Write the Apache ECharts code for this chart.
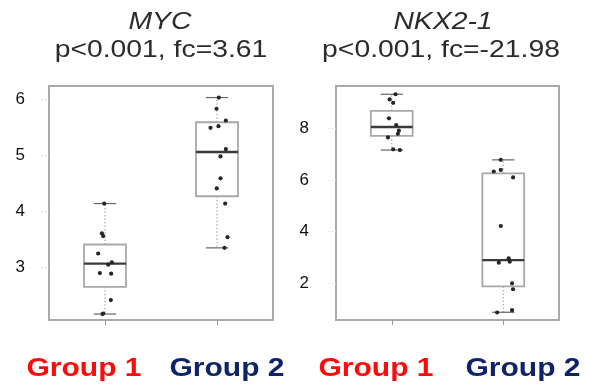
<!DOCTYPE html>
<html>
<head>
<meta charset="utf-8">
<script src="https://cdn.jsdelivr.net/npm/echarts@6/dist/echarts.min.js"></script>
<style>
html,body{margin:0;padding:0;background:#fff;}
#chart{width:589px;height:389px;}
</style>
</head>
<body>
<div id="chart"></div>
<script>
// ---- data ----
var groups = ['Group 1', 'Group 2'];
var panelTitles = ['MYC', 'NKX2-1'];
var panelSubtitles = ['p<0.001, fc=3.61', 'p<0.001, fc=-21.98'];

// box statistics [min, Q1, median, Q3, max]
var mycBoxG1 = [2.17, 2.655, 3.07, 3.41, 4.14];
var mycBoxG2 = [3.35, 4.27, 5.06, 5.59, 6.03];
var nkxBoxG1 = [7.16, 7.71, 8.05, 8.68, 9.32];
var nkxBoxG2 = [0.88, 1.88, 2.90, 6.26, 6.78];

// individual samples
var mycG1 = [4.14, 3.61, 3.56, 3.25, 3.09, 3.05, 2.90, 2.89, 2.42, 2.17, 2.18];
var mycG2 = [6.03, 5.83, 5.62, 5.52, 5.49, 5.11, 4.98, 4.59, 4.41, 4.14, 3.54, 3.35];
var nkxG1 = [9.32, 9.12, 8.99, 8.39, 8.13, 7.91, 7.79, 7.65, 7.19, 7.16];
var nkxG2 = [6.78, 6.33, 6.39, 6.10, 4.22, 2.80, 2.97, 2.84, 2.00, 1.77, 0.87, 0.96];

// horizontal jitter of samples (in category-width units)
var mycG1Jitter = [-0.007, -0.028, -0.016, -0.061, 0.061, 0.029, -0.046, 0.055, 0.052, -0.022, -0.016];
var mycG2Jitter = [0.016, -0.004, 0.079, 0.013, -0.058, 0.079, 0.031, 0.031, -0.002, 0.073, 0.094, 0.067];
var nkxG1Jitter = [0.034, -0.019, 0.013, -0.025, 0.040, 0.064, 0.055, -0.034, 0.013, 0.073];
var nkxG2Jitter = [-0.022, -0.085, -0.022, 0.088, -0.022, -0.040, 0.049, 0.058, 0.079, 0.088, -0.055, 0.079];

// y-axis ticks
var mycTicks = [3, 4, 5, 6];
var nkxTicks = [2, 4, 6, 8];
var mycRange = [2.064, 6.236];
var nkxRange = [0.58, 9.64];

// ---- build ----
function boxData(b1, b2) {
  return [[0].concat(b1), [1].concat(b2)];
}
function pointData(g1, j1, g2, j2) {
  var out = [];
  g1.forEach(function (v, i) { out.push([0, v, j1[i]]); });
  g2.forEach(function (v, i) { out.push([1, v, j2[i]]); });
  return out;
}

function renderBox(params, api) {
  var c = api.value(0);
  var pMin = api.coord([c, api.value(1)]);
  var pQ1 = api.coord([c, api.value(2)]);
  var pMed = api.coord([c, api.value(3)]);
  var pQ3 = api.coord([c, api.value(4)]);
  var pMax = api.coord([c, api.value(5)]);
  var cw = api.size([1, 0])[0];
  var bw = cw * 0.375;
  var capw = cw * 0.2;
  var x = pMed[0];
  return {
    type: 'group',
    children: [
      { type: 'line', shape: { x1: x, y1: pQ3[1], x2: x, y2: pMax[1] },
        style: { stroke: '#aaaaaa', lineWidth: 1.2, lineDash: [1.5, 2] } },
      { type: 'line', shape: { x1: x, y1: pQ1[1], x2: x, y2: pMin[1] },
        style: { stroke: '#aaaaaa', lineWidth: 1.2, lineDash: [1.5, 2] } },
      { type: 'line', shape: { x1: x - capw / 2, y1: pMax[1], x2: x + capw / 2, y2: pMax[1] },
        style: { stroke: '#666666', lineWidth: 1.2 } },
      { type: 'line', shape: { x1: x - capw / 2, y1: pMin[1], x2: x + capw / 2, y2: pMin[1] },
        style: { stroke: '#666666', lineWidth: 1.2 } },
      { type: 'rect', shape: { x: x - bw / 2, y: pQ3[1], width: bw, height: pQ1[1] - pQ3[1] },
        style: { fill: 'rgba(255,255,255,0)', stroke: '#a8a8a8', lineWidth: 1.8 } },
      { type: 'line', shape: { x1: x - bw / 2, y1: pMed[1], x2: x + bw / 2, y2: pMed[1] },
        style: { stroke: '#3a3a3a', lineWidth: 2.4 } }
    ]
  };
}

function renderPoint(params, api) {
  var p = api.coord([api.value(0), api.value(1)]);
  var cw = api.size([1, 0])[0];
  return {
    type: 'circle',
    shape: { cx: p[0] + api.value(2) * cw, cy: p[1], r: 2.1 },
    style: { fill: '#262626' }
  };
}

var grids = [
  { left: 49, width: 224, top: 86, height: 234 },
  { left: 336, width: 223, top: 86, height: 234 }
];
grids.forEach(function (g) {
  g.show = true; g.borderColor = '#aaaaaa'; g.borderWidth = 2; g.backgroundColor = '#fff';
});

function xAxis(i) {
  return {
    type: 'category', gridIndex: i, data: groups, boundaryGap: true,
    axisLine: { show: false },
    axisTick: { show: true, alignWithLabel: true, length: 5, lineStyle: { color: '#999', width: 1 } },
    axisLabel: { show: false },
    splitLine: { show: false }
  };
}
function yAxis(i, range, ticks, margin) {
  return {
    type: 'value', gridIndex: i, min: range[0], max: range[1],
    axisLine: { show: false },
    axisTick: { show: true, length: 7, customValues: ticks, lineStyle: { color: '#c8c8c8', width: 1, type: [1, 2] } },
    axisLabel: { show: true, customValues: ticks, margin: margin, fontSize: 17,
      fontFamily: 'Liberation Sans, Arial, sans-serif', color: '#111' },
    splitLine: { show: false }
  };
}

var txtFont = 'Liberation Sans, Arial, sans-serif';
function gText(text, x, y, opts) {
  return {
    type: 'text', x: x, y: y, scaleX: opts.scaleX || 1.18, z: 10,
    style: {
      text: text, fill: opts.color || '#2b2b2b', align: 'center', verticalAlign: 'middle',
      font: (opts.style || '') + ' ' + (opts.weight || 'normal') + ' ' + opts.size + 'px ' + txtFont
    }
  };
}

var option = {
  animation: false,
  backgroundColor: '#ffffff',
  grid: grids,
  xAxis: [xAxis(0), xAxis(1)],
  yAxis: [yAxis(0, mycRange, mycTicks, 24), yAxis(1, nkxRange, nkxTicks, 27)],
  series: [
    { type: 'custom', xAxisIndex: 0, yAxisIndex: 0, renderItem: renderBox,
      data: boxData(mycBoxG1, mycBoxG2), z: 2 },
    { type: 'custom', xAxisIndex: 0, yAxisIndex: 0, renderItem: renderPoint,
      data: pointData(mycG1, mycG1Jitter, mycG2, mycG2Jitter), z: 3 },
    { type: 'custom', xAxisIndex: 1, yAxisIndex: 1, renderItem: renderBox,
      data: boxData(nkxBoxG1, nkxBoxG2), z: 2 },
    { type: 'custom', xAxisIndex: 1, yAxisIndex: 1, renderItem: renderPoint,
      data: pointData(nkxG1, nkxG1Jitter, nkxG2, nkxG2Jitter), z: 3 }
  ],
  graphic: [
    gText(panelTitles[0], 160, 22, { size: 24, style: 'italic' }),
    gText(panelSubtitles[0], 161, 50, { size: 24 }),
    gText(panelTitles[1], 443, 22, { size: 24, style: 'italic' }),
    gText(panelSubtitles[1], 441, 50, { size: 24 }),
    gText(groups[0], 84, 369, { size: 25, weight: 'bold', color: '#ff0a0a', scaleX: 1.2 }),
    gText(groups[1], 227, 369, { size: 25, weight: 'bold', color: '#0f2467', scaleX: 1.2 }),
    gText(groups[0], 376, 369, { size: 25, weight: 'bold', color: '#ff0a0a', scaleX: 1.2 }),
    gText(groups[1], 523, 369, { size: 25, weight: 'bold', color: '#0f2467', scaleX: 1.2 })
  ]
};

var chart = echarts.init(document.getElementById('chart'), null, { renderer: 'canvas' });
chart.setOption(option);
</script>
</body>
</html>
